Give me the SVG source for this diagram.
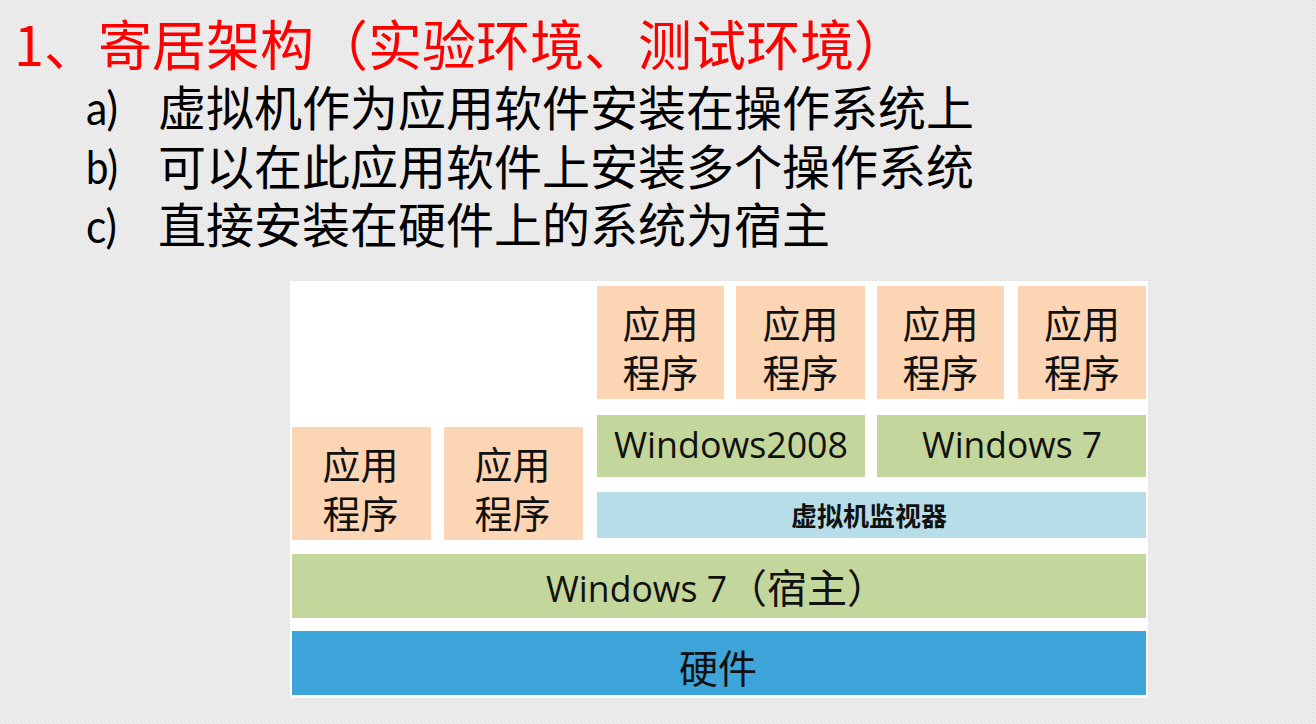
<svg xmlns="http://www.w3.org/2000/svg" width="1316" height="724" viewBox="0 0 1316 724">
<defs>
<pattern id="bgtex" width="4" height="4" patternUnits="userSpaceOnUse">
<rect width="4" height="4" fill="#ECECEC"/>
<rect x="0" y="0" width="1" height="1" fill="#DDDDDD"/>
<rect x="2" y="2" width="1" height="1" fill="#DDDDDD"/>
</pattern>
</defs>
<style>
.cjk{font-family:"Noto Sans CJK SC","Noto Sans",sans-serif;}
.lat{font-family:"Open Sans","Noto Sans CJK SC",sans-serif;}
.mark{font-family:Lato,"Open Sans",sans-serif;font-size:46px;fill:#000;}
.title{font-size:54px;fill:#FF0000;}
.bul{font-size:48px;fill:#000;}
.app{fill:#FCD5B4;}
.os{fill:#C3D69B;}
.hv{fill:#B6DDE8;}
.hw{fill:#3DA5D9;}
.lbl{font-size:38px;fill:#111;text-anchor:middle;}
.oslbl{font-size:36px;fill:#111;}
</style>
<rect width="1316" height="724" fill="url(#bgtex)"/>

<g id="title">
<text class="cjk title" x="14" y="66">1、寄居架构（实验环境、测试环境）</text>
</g>
<g id="bullets">
<text class="mark" x="86" y="125" textLength="32" lengthAdjust="spacingAndGlyphs">a)</text>
<text class="cjk bul" x="158" y="126">虚拟机作为应用软件安装在操作系统上</text>
<text class="mark" x="86" y="184" textLength="32" lengthAdjust="spacingAndGlyphs">b)</text>
<text class="cjk bul" x="158" y="185">可以在此应用软件上安装多个操作系统</text>
<text class="mark" x="86" y="243" textLength="31" lengthAdjust="spacingAndGlyphs">c)</text>
<text class="cjk bul" x="158" y="243">直接安装在硬件上的系统为宿主</text>
</g>

<g id="panel">
<rect x="290" y="281" width="858" height="417" fill="#FFFFFF"/>
</g>

<g id="app-top-1">
<rect class="app" x="597" y="286" width="127" height="113"/>
<text class="cjk lbl" x="660.5" y="338">应用</text>
<text class="cjk lbl" x="660.5" y="387">程序</text>
</g>
<g id="app-top-2">
<rect class="app" x="736" y="286" width="129" height="113"/>
<text class="cjk lbl" x="800.5" y="338">应用</text>
<text class="cjk lbl" x="800.5" y="387">程序</text>
</g>
<g id="app-top-3">
<rect class="app" x="877" y="286" width="127" height="113"/>
<text class="cjk lbl" x="940.5" y="338">应用</text>
<text class="cjk lbl" x="940.5" y="387">程序</text>
</g>
<g id="app-top-4">
<rect class="app" x="1018" y="286" width="128" height="113"/>
<text class="cjk lbl" x="1082" y="338">应用</text>
<text class="cjk lbl" x="1082" y="387">程序</text>
</g>

<g id="guest-win2008">
<rect class="os" x="597" y="415" width="268" height="62"/>
<text class="lat oslbl" x="614" y="458" textLength="234" lengthAdjust="spacingAndGlyphs">Windows2008</text>
</g>
<g id="guest-win7">
<rect class="os" x="877" y="415" width="269" height="62"/>
<text class="lat oslbl" x="922" y="458" textLength="180" lengthAdjust="spacingAndGlyphs">Windows 7</text>
</g>

<g id="app-left-1">
<rect class="app" x="292" y="427" width="139" height="113"/>
<text class="cjk lbl" x="360.5" y="479">应用</text>
<text class="cjk lbl" x="360.5" y="528">程序</text>
</g>
<g id="app-left-2">
<rect class="app" x="444" y="427" width="139" height="113"/>
<text class="cjk lbl" x="512.5" y="479">应用</text>
<text class="cjk lbl" x="512.5" y="528">程序</text>
</g>

<g id="hypervisor">
<rect class="hv" x="597" y="492" width="549" height="46"/>
<text class="cjk" x="869" y="526" font-size="26" font-weight="bold" fill="#111" text-anchor="middle">虚拟机监视器</text>
</g>

<g id="host-os">
<rect class="os" x="292" y="554" width="854" height="64"/>
<text class="lat oslbl" x="546" y="602" textLength="181" lengthAdjust="spacingAndGlyphs">Windows 7</text>
<text class="cjk" x="727" y="603" font-size="40" fill="#111">（宿主）</text>
</g>

<g id="hardware">
<rect class="hw" x="292" y="631" width="854" height="64"/>
<text class="cjk" x="718" y="683" font-size="39" fill="#111" text-anchor="middle">硬件</text>
</g>

<g id="connectors"/>
</svg>
